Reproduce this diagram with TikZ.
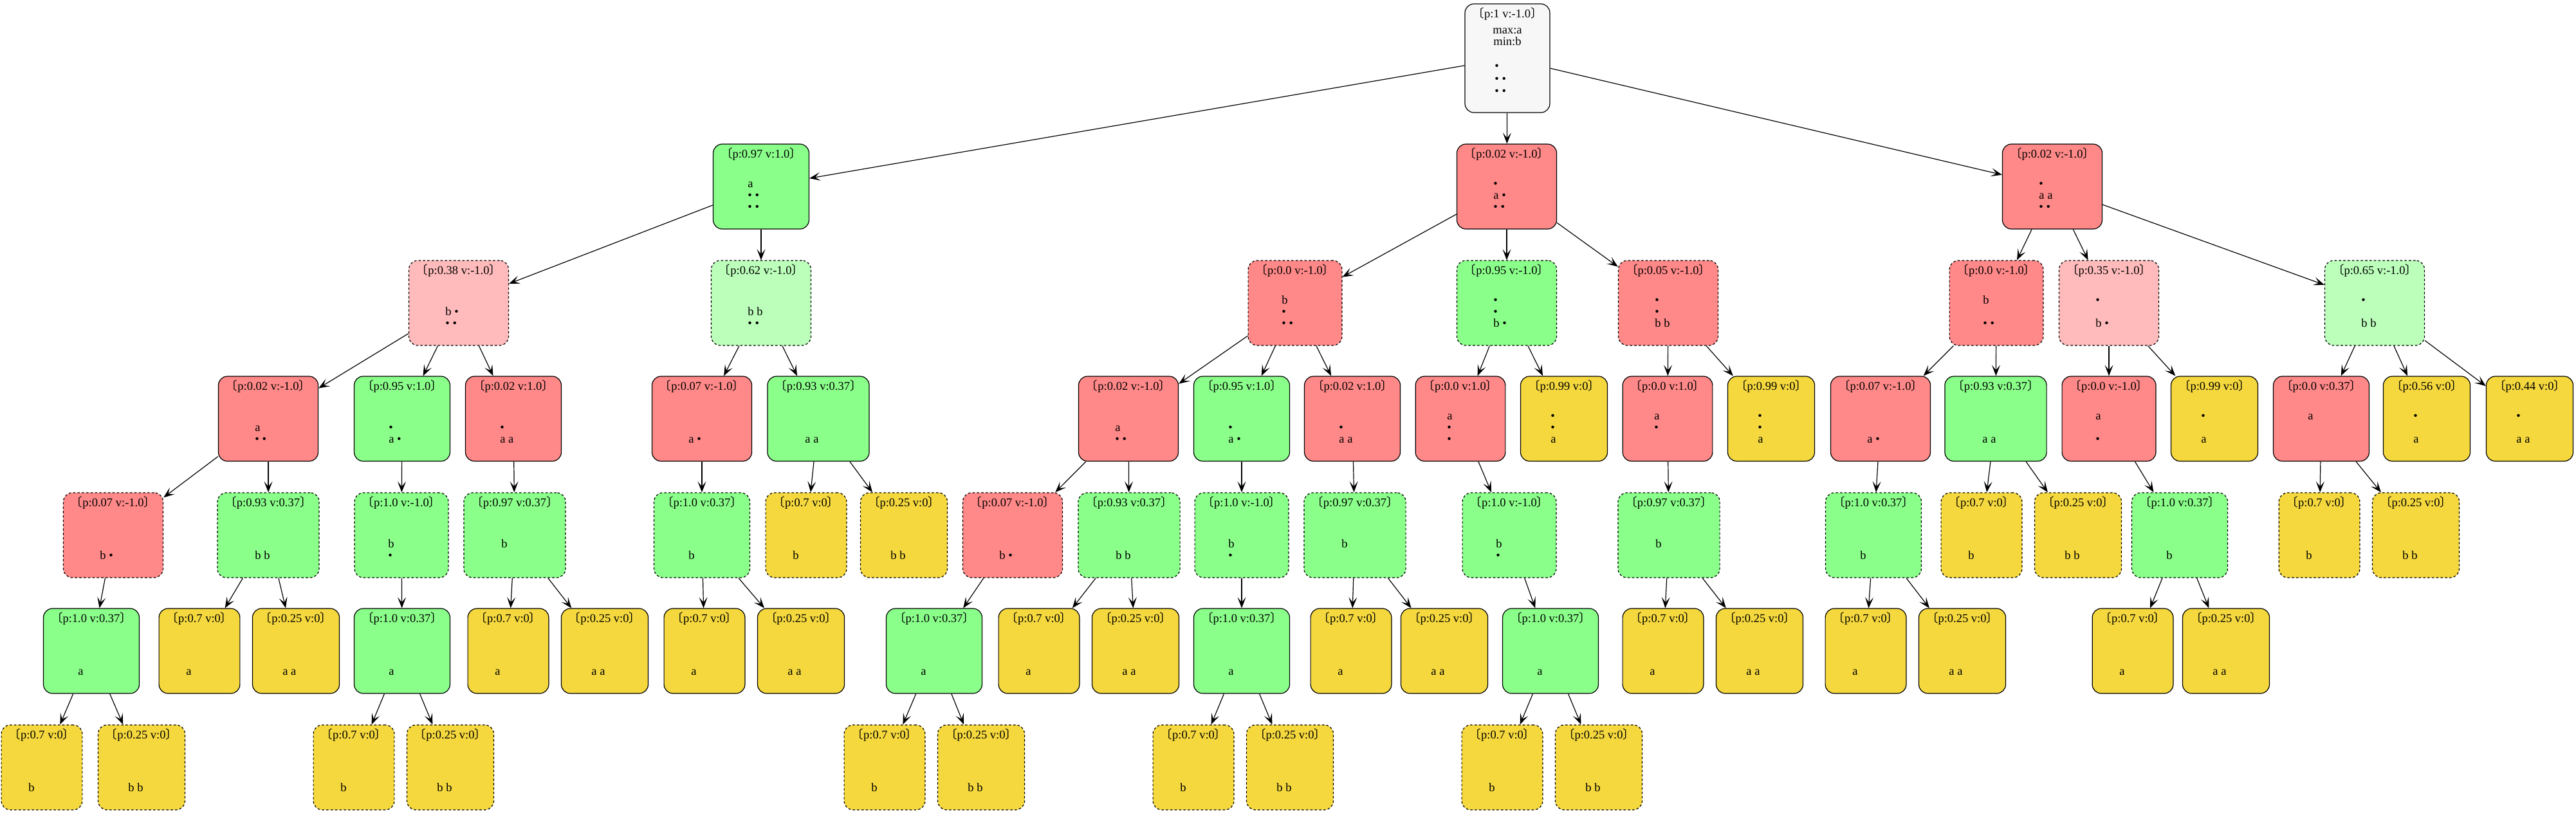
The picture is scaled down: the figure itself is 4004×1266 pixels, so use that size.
\documentclass[tikz,border=0pt]{standalone}
\usepackage{fontspec}
\setmainfont{Liberation Serif}
\newfontfamily\cjk{Noto Sans CJK SC}
\usetikzlibrary{arrows.meta}
\definecolor{cG}{HTML}{8AFF8A}
\definecolor{cR}{HTML}{FF8888}
\definecolor{cY}{HTML}{F5D83E}
\definecolor{cP}{HTML}{FFBBBB}
\definecolor{cL}{HTML}{BBFFBB}
\definecolor{cW}{HTML}{F7F7F7}
\newcommand\F{\fontsize{9.25}{11}\selectfont}
\newcommand\lab[1]{{\cjk 〔}#1{\cjk 〕}}
\tikzset{
  box/.style={draw, rounded corners=7pt, line width=0.6pt, minimum height=66pt, inner xsep=5.75pt, inner ysep=0pt, font=\F},
  dsh/.style={dash pattern=on 1.8pt off 1.6pt},
  gS/.style={fill=cG}, rS/.style={fill=cR}, yS/.style={fill=cY},
  gD/.style={fill=cG,dsh}, rD/.style={fill=cR,dsh}, yD/.style={fill=cY,dsh},
  pD/.style={fill=cP,dsh}, lD/.style={fill=cL,dsh},
  lbl/.style={anchor=base, inner sep=0pt, font=\F},
  rowt/.style={anchor=base west, inner sep=0pt, font=\F},
  edge/.style={line width=0.6pt, -{Stealth[length=8.5pt,width=6.5pt,inset=4pt]}}
}
\newcommand\TN[8]{%
  \node[box,#4] (#1) at (#2,#3) {\phantom{\lab{#5}}};
  \node[lbl] at ([yshift=-11pt]#1.north) {\lab{#5}};
  \node[rowt] at ([xshift=-10.5pt,yshift=-34pt]#1.north) {#6};
  \node[rowt] at ([xshift=-10.5pt,yshift=-43pt]#1.north) {#7};
  \node[rowt] at ([xshift=-10.5pt,yshift=-52pt]#1.north) {#8};
}
\newcommand\E[2]{\draw[edge] (#1) -- (#2);}
\begin{document}
\begin{tikzpicture}[x=0.5pt,y=-0.5pt]
\fill[white] (0,0) rectangle (4004,1266);
\useasboundingbox (0,0) rectangle (4004,1266);
% root
\node[box,fill=cW,minimum height=84.5pt] (R) at (2343,90.5) {\phantom{\lab{p:1 v:-1.0}}};
\node[lbl] at ([yshift=-11pt]R.north) {\lab{p:1 v:-1.0}};
\node[lbl] at ([yshift=-23.5pt]R.north) {max:a};
\node[lbl] at ([yshift=-32.5pt]R.north) {min:b};
\node[rowt] at ([xshift=-10pt,yshift=-51.5pt]R.north) {•};
\node[rowt] at ([xshift=-10pt,yshift=-61.5pt]R.north) {• •};
\node[rowt] at ([xshift=-10pt,yshift=-71pt]R.north) {• •};
% level 1
\TN{A}{1183}{290}{gS}{p:0.97 v:1.0}{a}{• •}{• •}
\TN{B}{2342}{290}{rS}{p:0.02 v:-1.0}{•}{a •}{• •}
\TN{C}{3190}{290}{rS}{p:0.02 v:-1.0}{•}{a a}{• •}
% level 2
\TN{A1}{713}{471}{pD}{p:0.38 v:-1.0}{}{b •}{• •}
\TN{A2}{1183}{471}{lD}{p:0.62 v:-1.0}{}{b b}{• •}
\TN{B1}{2013}{471}{rD}{p:0.0 v:-1.0}{b}{•}{• •}
\TN{B2}{2342}{471}{gD}{p:0.95 v:-1.0}{•}{•}{b •}
\TN{B3}{2593}{471}{rD}{p:0.05 v:-1.0}{•}{•}{b b}
\TN{C1}{3103}{471}{rD}{p:0.0 v:-1.0}{b}{}{• •}
\TN{C2}{3278}{471}{pD}{p:0.35 v:-1.0}{•}{}{b •}
\TN{C3}{3691}{471}{lD}{p:0.65 v:-1.0}{•}{}{b b}
% level 3
\TN{A1a}{417}{651}{rS}{p:0.02 v:-1.0}{}{a}{• •}
\TN{A1b}{625}{651}{gS}{p:0.95 v:1.0}{}{•}{a •}
\TN{A1c}{798}{651}{rS}{p:0.02 v:1.0}{}{•}{a a}
\TN{A2a}{1091}{651}{rS}{p:0.07 v:-1.0}{}{}{a •}
\TN{A2b}{1272}{651}{gS}{p:0.93 v:0.37}{}{}{a a}
\TN{B1a}{1754}{651}{rS}{p:0.02 v:-1.0}{}{a}{• •}
\TN{B1b}{1930}{651}{gS}{p:0.95 v:1.0}{}{•}{a •}
\TN{B1c}{2102}{651}{rS}{p:0.02 v:1.0}{}{•}{a a}
\TN{B2a}{2270}{651}{rS}{p:0.0 v:1.0}{a}{•}{•}
\TN{B2b}{2431}{651}{yS}{p:0.99 v:0}{•}{•}{a}
\TN{B3a}{2592}{651}{rS}{p:0.0 v:1.0}{a}{•}{}
\TN{B3b}{2753}{651}{yS}{p:0.99 v:0}{•}{•}{a}
\TN{C1a}{2923}{651}{rS}{p:0.07 v:-1.0}{}{}{a •}
\TN{C1b}{3102}{651}{gS}{p:0.93 v:0.37}{}{}{a a}
\TN{C2a}{3278}{651}{rS}{p:0.0 v:-1.0}{a}{}{•}
\TN{C2b}{3442}{651}{yS}{p:0.99 v:0}{•}{}{a}
\TN{C3a}{3608}{651}{rS}{p:0.0 v:0.37}{a}{}{}
\TN{C3b}{3772}{651}{yS}{p:0.56 v:0}{•}{}{a}
\TN{C3c}{3932}{651}{yS}{p:0.44 v:0}{•}{}{a a}
% level 4
\TN{A1a1}{176}{832}{rD}{p:0.07 v:-1.0}{}{}{b •}
\TN{A1a2}{417}{832}{gD}{p:0.93 v:0.37}{}{}{b b}
\TN{A1b1}{624}{832}{gD}{p:1.0 v:-1.0}{}{b}{•}
\TN{A1c1}{800}{832}{gD}{p:0.97 v:0.37}{}{b}{}
\TN{A2a1}{1091}{832}{gD}{p:1.0 v:0.37}{}{}{b}
\TN{A2b1}{1253}{832}{yD}{p:0.7 v:0}{}{}{b}
\TN{A2b2}{1405}{832}{yD}{p:0.25 v:0}{}{}{b b}
\TN{B1a1}{1574}{832}{rD}{p:0.07 v:-1.0}{}{}{b •}
\TN{B1a2}{1755}{832}{gD}{p:0.93 v:0.37}{}{}{b b}
\TN{B1b1}{1930}{832}{gD}{p:1.0 v:-1.0}{}{b}{•}
\TN{B1c1}{2106}{832}{gD}{p:0.97 v:0.37}{}{b}{}
\TN{B2a1}{2346}{832}{gD}{p:1.0 v:-1.0}{}{b}{•}
\TN{B3a1}{2594}{832}{gD}{p:0.97 v:0.37}{}{b}{}
\TN{C1a1}{2912}{832}{gD}{p:1.0 v:0.37}{}{}{b}
\TN{C1b1}{3080}{832}{yD}{p:0.7 v:0}{}{}{b}
\TN{C1b2}{3230}{832}{yD}{p:0.25 v:0}{}{}{b b}
\TN{C2a1}{3388}{832}{gD}{p:1.0 v:0.37}{}{}{b}
\TN{C3a1}{3605}{832}{yD}{p:0.7 v:0}{}{}{b}
\TN{C3a2}{3755}{832}{yD}{p:0.25 v:0}{}{}{b b}
% level 5
\TN{D1}{142}{1012}{gS}{p:1.0 v:0.37}{}{}{a}
\TN{D2}{310}{1012}{yS}{p:0.7 v:0}{}{}{a}
\TN{D3}{460}{1012}{yS}{p:0.25 v:0}{}{}{a a}
\TN{D4}{625}{1012}{gS}{p:1.0 v:0.37}{}{}{a}
\TN{D5}{790}{1012}{yS}{p:0.7 v:0}{}{}{a}
\TN{D6}{940}{1012}{yS}{p:0.25 v:0}{}{}{a a}
\TN{D7}{1095}{1012}{yS}{p:0.7 v:0}{}{}{a}
\TN{D8}{1245}{1012}{yS}{p:0.25 v:0}{}{}{a a}
\TN{D9}{1452}{1012}{gS}{p:1.0 v:0.37}{}{}{a}
\TN{D10}{1615}{1012}{yS}{p:0.7 v:0}{}{}{a}
\TN{D11}{1765}{1012}{yS}{p:0.25 v:0}{}{}{a a}
\TN{D12}{1930}{1012}{gS}{p:1.0 v:0.37}{}{}{a}
\TN{D13}{2100}{1012}{yS}{p:0.7 v:0}{}{}{a}
\TN{D14}{2245}{1012}{yS}{p:0.25 v:0}{}{}{a a}
\TN{D15}{2410}{1012}{gS}{p:1.0 v:0.37}{}{}{a}
\TN{D16}{2585}{1012}{yS}{p:0.7 v:0}{}{}{a}
\TN{D17}{2735}{1012}{yS}{p:0.25 v:0}{}{}{a a}
\TN{D18}{2900}{1012}{yS}{p:0.7 v:0}{}{}{a}
\TN{D19}{3050}{1012}{yS}{p:0.25 v:0}{}{}{a a}
\TN{D20}{3315}{1012}{yS}{p:0.7 v:0}{}{}{a}
\TN{D21}{3460}{1012}{yS}{p:0.25 v:0}{}{}{a a}
% level 6
\TN{F1}{65}{1193}{yD}{p:0.7 v:0}{}{}{b}
\TN{F2}{220}{1193}{yD}{p:0.25 v:0}{}{}{b b}
\TN{F3}{550}{1193}{yD}{p:0.7 v:0}{}{}{b}
\TN{F4}{700}{1193}{yD}{p:0.25 v:0}{}{}{b b}
\TN{F5}{1375}{1193}{yD}{p:0.7 v:0}{}{}{b}
\TN{F6}{1525}{1193}{yD}{p:0.25 v:0}{}{}{b b}
\TN{F7}{1855}{1193}{yD}{p:0.7 v:0}{}{}{b}
\TN{F8}{2005}{1193}{yD}{p:0.25 v:0}{}{}{b b}
\TN{F9}{2335}{1193}{yD}{p:0.7 v:0}{}{}{b}
\TN{F10}{2485}{1193}{yD}{p:0.25 v:0}{}{}{b b}
% edges
\E{R}{A}\E{R}{B}\E{R}{C}
\E{A}{A1}\E{A}{A2}
\E{B}{B1}\E{B}{B2}\E{B}{B3}
\E{C}{C1}\E{C}{C2}\E{C}{C3}
\E{A1}{A1a}\E{A1}{A1b}\E{A1}{A1c}
\E{A2}{A2a}\E{A2}{A2b}
\E{B1}{B1a}\E{B1}{B1b}\E{B1}{B1c}
\E{B2}{B2a}\E{B2}{B2b}
\E{B3}{B3a}\E{B3}{B3b}
\E{C1}{C1a}\E{C1}{C1b}
\E{C2}{C2a}\E{C2}{C2b}
\E{C3}{C3a}\E{C3}{C3b}\E{C3}{C3c}
\E{A1a}{A1a1}\E{A1a}{A1a2}
\E{A1b}{A1b1}\E{A1c}{A1c1}
\E{A2a}{A2a1}\E{A2b}{A2b1}\E{A2b}{A2b2}
\E{B1a}{B1a1}\E{B1a}{B1a2}
\E{B1b}{B1b1}\E{B1c}{B1c1}
\E{B2a}{B2a1}\E{B3a}{B3a1}
\E{C1a}{C1a1}\E{C1b}{C1b1}\E{C1b}{C1b2}
\E{C2a}{C2a1}\E{C3a}{C3a1}\E{C3a}{C3a2}
\E{A1a1}{D1}\E{A1a2}{D2}\E{A1a2}{D3}
\E{A1b1}{D4}\E{A1c1}{D5}\E{A1c1}{D6}
\E{A2a1}{D7}\E{A2a1}{D8}
\E{B1a1}{D9}\E{B1a2}{D10}\E{B1a2}{D11}
\E{B1b1}{D12}\E{B1c1}{D13}\E{B1c1}{D14}
\E{B2a1}{D15}\E{B3a1}{D16}\E{B3a1}{D17}
\E{C1a1}{D18}\E{C1a1}{D19}
\E{C2a1}{D20}\E{C2a1}{D21}
\E{D1}{F1}\E{D1}{F2}
\E{D4}{F3}\E{D4}{F4}
\E{D9}{F5}\E{D9}{F6}
\E{D12}{F7}\E{D12}{F8}
\E{D15}{F9}\E{D15}{F10}
\end{tikzpicture}
\end{document}
